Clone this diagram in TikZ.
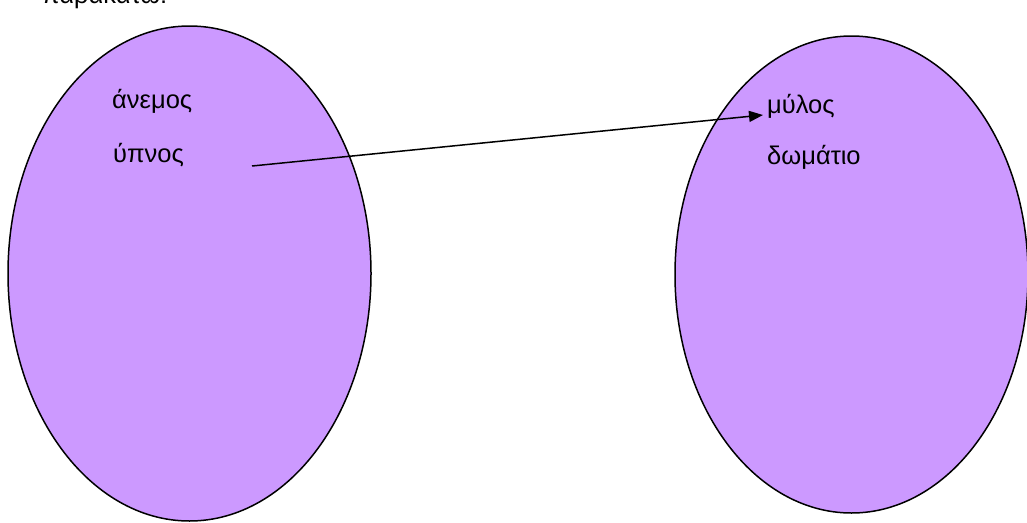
\documentclass[tikz,border=0pt]{standalone}
\usepackage{fontspec}
\setmainfont{Liberation Sans}
\usetikzlibrary{shapes.geometric,arrows.meta}
\definecolor{lav}{HTML}{CC99FF}
\begin{document}
\begin{tikzpicture}[x=1pt,y=-1pt,
  blob/.style={ellipse,draw=black,fill=lav,line width=1.5pt,inner sep=0pt},
  word/.style={anchor=base west,inner sep=0pt,font=\fontsize{25.5}{30}\selectfont},
  link/.style={line width=1.5pt,-{Triangle[length=14pt,width=11pt]}}]
\useasboundingbox (0,0) rectangle (1027,522);
\node[word] (top) at (42,4) {παρακάτω:};
\node[blob,minimum width=363pt,minimum height=495pt] (left) at (189.5,273.5) {};
\node[blob,minimum width=353pt,minimum height=477pt] (right) at (851.5,274.5) {};
\node[word] (anemos) at (112,108) {άνεμος};
\node[word] (ypnos) at (113,162) {ύπνος};
\node[word] (mylos) at (767,113) {μύλος};
\node[word] (domatio) at (767,164) {δωμάτιο};
\coordinate (start) at (252,166);
\draw[link] (start) -- ([xshift=-4pt,yshift=-2pt]mylos.base west);
\end{tikzpicture}
\end{document}
